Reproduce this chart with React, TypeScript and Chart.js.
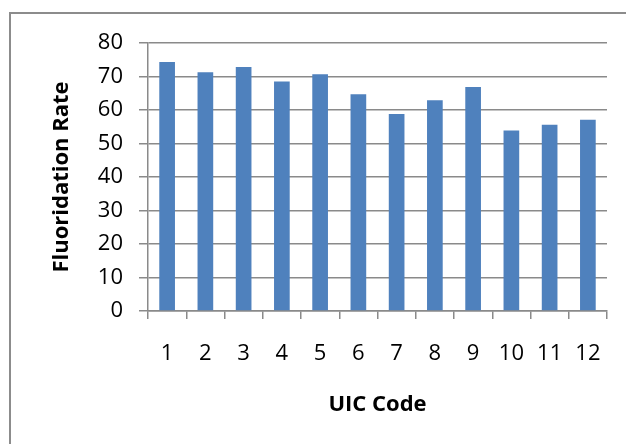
import React, { useEffect, useRef } from "react";
import { Chart, registerables } from "chart.js";

Chart.register(...registerables);

const categories: string[] = ["1", "2", "3", "4", "5", "6", "7", "8", "9", "10", "11", "12"];
const fluoridationRate: number[] = [74.3, 71.3, 72.8, 68.5, 70.7, 64.7, 58.8, 62.9, 66.9, 53.9, 55.6, 57.1];
const yTitle = "Fluoridation Rate";
const xTitle = "UIC Code";

export default function App() {
  const canvasRef = useRef<HTMLCanvasElement | null>(null);

  useEffect(() => {
    const canvas = canvasRef.current;
    if (!canvas) return;
    const gridColor = "#8a8a8a";
    const chart = new Chart(canvas, {
      type: "bar",
      data: {
        labels: categories,
        datasets: [
          {
            label: yTitle,
            data: fluoridationRate,
            backgroundColor: "#4F81BD",
            borderWidth: 0,
            barPercentage: 0.41,
            categoryPercentage: 1,
          },
        ],
      },
      options: {
        animation: false,
        responsive: false,
        maintainAspectRatio: false,
        layout: { padding: { left: 0, top: 43, right: 19, bottom: 0 } },
        plugins: {
          legend: { display: false },
          tooltip: { enabled: false },
          title: { display: false },
        },
        scales: {
          x: {
            offset: true,
            grid: {
              offset: true,
              drawOnChartArea: false,
              drawTicks: true,
              tickLength: 8,
              color: gridColor,
              lineWidth: 1.5,
            },
            border: { display: true, color: gridColor, width: 1.5 },
            ticks: {
              color: "#000",
              padding: 22,
              maxRotation: 0,
              autoSkip: false,
              font: { family: "'Open Sans'", size: 22 },
            },
            title: {
              display: true,
              text: xTitle,
              color: "#000",
              padding: { top: 0, bottom: 26 },
              font: { family: "'Open Sans'", size: 22, weight: "bold" },
            },
            afterFit: (scale: any) => {
              scale.height = 133;
            },
          },
          y: {
            min: 0,
            max: 80,
            grid: {
              color: gridColor,
              lineWidth: 1.5,
              drawTicks: true,
              tickLength: 9,
            },
            border: { display: true, color: gridColor, width: 1.5 },
            ticks: {
              stepSize: 10,
              color: "#000",
              padding: 16,
              font: { family: "'Open Sans'", size: 22 },
            },
            title: {
              display: true,
              text: yTitle,
              color: "#000",
              padding: { top: 49, bottom: 0 },
              font: { family: "'Open Sans'", size: 22, weight: "bold" },
            },
            afterFit: (scale: any) => {
              scale.width = 148;
            },
          },
        },
      },
    });
    return () => chart.destroy();
  }, []);

  return (
    <div style={{ position: "fixed", left: 0, top: 0, width: 626, height: 444, background: "#fff", overflow: "hidden" }}>
      <div
        style={{
          position: "absolute",
          left: 9,
          top: 12,
          width: 660,
          height: 480,
          border: "2px solid #8c8c8c",
          boxSizing: "border-box",
        }}
      />
      <canvas ref={canvasRef} width={626} height={444} style={{ position: "absolute", left: 0, top: 0, width: 626, height: 444 }} />
    </div>
  );
}
